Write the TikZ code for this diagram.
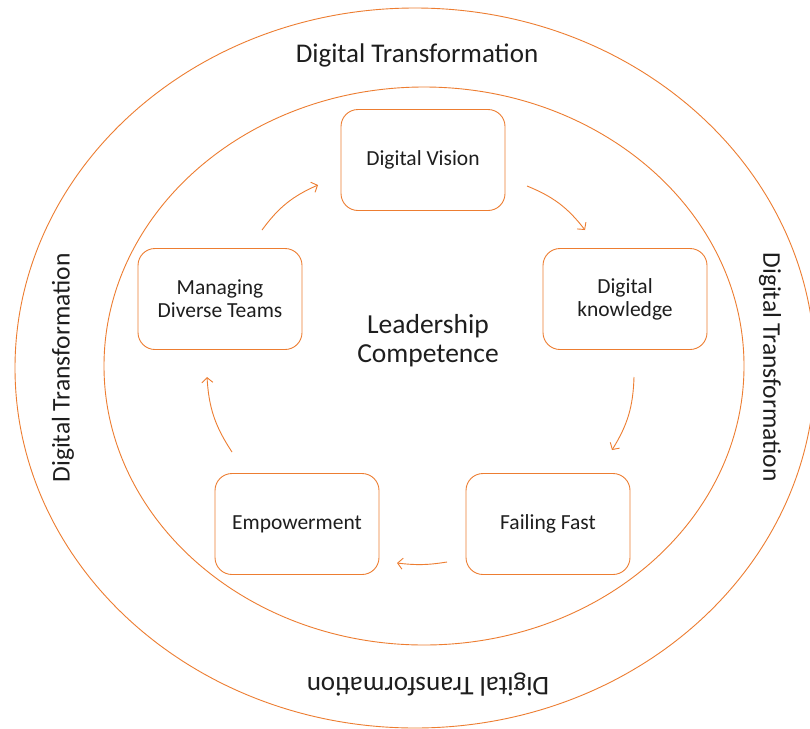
\documentclass[tikz,border=0pt]{standalone}
\usepackage{fontspec}
\setmainfont{Carlito}
\usetikzlibrary{arrows.meta}
\definecolor{lineor}{RGB}{237,125,49}
\definecolor{txt}{RGB}{30,30,30}
\tikzset{
  ring/.style={draw=lineor, line width=0.9pt},
  stepbox/.style={draw=lineor, line width=0.9pt, rounded corners=17pt, minimum width=164pt, minimum height=101pt, align=center, text=txt, font=\fontsize{21.5}{23}\selectfont, inner sep=0pt},
  ringlabel/.style={text=txt, font=\fontsize{27}{30}\selectfont, inner sep=0pt},
  sidelabel/.style={text=txt, font=\fontsize{25.5}{30}\selectfont, inner sep=0pt},
  arr/.style={draw=lineor, line width=0.9pt, -{Straight Barb[length=5pt,width=11pt]}}
}
\begin{document}
\begin{tikzpicture}[x=1pt,y=-1pt]
\useasboundingbox (0,0) rectangle (810,728);
\fill[white] (0,0) rectangle (810,728);
\draw[ring] (415,368) ellipse [x radius=400pt, y radius=360pt];
\draw[ring] (424,366) ellipse [x radius=320pt, y radius=279pt];

\node[ringlabel] (tt) at (417,55) {Digital Transformation};
\node[sidelabel, rotate=90] (tl) at (63,368) {Digital Transformation};
\node[sidelabel, rotate=-90] (tr) at (770,367) {Digital Transformation};
\node[ringlabel, rotate=180] (tb) at (428,685) {Digital Transformation};

\node[text=txt, align=center, font=\fontsize{27.5}{29}\selectfont] (lc) at (428,341) {Leadership\\Competence};

\node[stepbox] (dv) at (423,160) {Digital Vision};
\node[stepbox] (dk) at (625,299) {Digital\\knowledge};
\node[stepbox] (ff) at (548,524) {Failing Fast};
\node[stepbox] (em) at (297,524) {Empowerment};
\node[stepbox] (md) at (220,299) {Managing\\Diverse Teams};

\coordinate (a1s) at (262,230); \coordinate (a1e) at (318,185);
\coordinate (a2s) at (527,186); \coordinate (a2e) at (585,230);
\coordinate (a3s) at (634,377); \coordinate (a3e) at (612,450);
\coordinate (a4s) at (447,562); \coordinate (a4e) at (397,563);
\coordinate (a5s) at (232,452); \coordinate (a5e) at (207,377);

\draw[arr] (a1s) to[bend left=15] (a1e);
\draw[arr] (a2s) to[bend left=15] (a2e);
\draw[arr] (a3s) to[bend left=15] (a3e);
\draw[arr] (a4s) to[bend left=8] (a4e);
\draw[arr] (a5s) to[bend left=15] (a5e);
\end{tikzpicture}
\end{document}
